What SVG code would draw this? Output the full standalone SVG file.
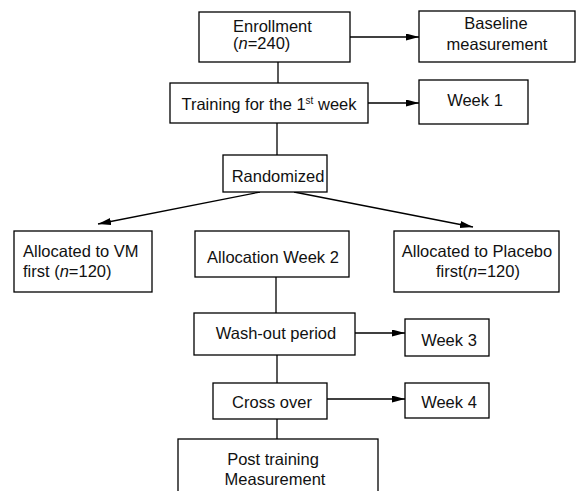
<svg xmlns="http://www.w3.org/2000/svg" width="578" height="491" viewBox="0 0 578 491">
<style>
.box{fill:#fff;stroke:#000;stroke-width:1.3}
.ln{fill:none;stroke:#000;stroke-width:1.3}
.t{font-family:"Liberation Sans",Arial,sans-serif;font-size:16.5px;fill:#111}
.m{text-anchor:middle}
</style>
<defs>
<marker id="ah" markerUnits="userSpaceOnUse" markerWidth="14" markerHeight="8" refX="13" refY="3.5" orient="auto">
<path d="M0,0 L13,3.5 L0,7 z" fill="#000"/>
</marker>
</defs>
<rect width="578" height="491" fill="#fff"/>
<g id="connectors">
<line class="ln" x1="350" y1="37" x2="419" y2="37" marker-end="url(#ah)"/>
<line class="ln" x1="278" y1="62" x2="278" y2="83"/>
<line class="ln" x1="368" y1="103" x2="419" y2="103" marker-end="url(#ah)"/>
<line class="ln" x1="277" y1="123" x2="277" y2="155"/>
<line class="ln" x1="260" y1="192" x2="98" y2="224" marker-end="url(#ah)"/>
<line class="ln" x1="294" y1="192" x2="473" y2="227" marker-end="url(#ah)"/>
<line class="ln" x1="276" y1="277" x2="276" y2="313"/>
<line class="ln" x1="355" y1="333" x2="405" y2="333" marker-end="url(#ah)"/>
<line class="ln" x1="277" y1="355" x2="277" y2="383"/>
<line class="ln" x1="327" y1="399" x2="405" y2="399" marker-end="url(#ah)"/>
<line class="ln" x1="277" y1="419" x2="277" y2="439"/>
</g>
<g id="enrollment">
<rect class="box" x="199" y="12" width="151" height="50"/>
<text class="t" x="233" y="32">Enrollment</text>
<text class="t" x="233" y="49">(<tspan font-style="italic">n</tspan>=240)</text>
</g>
<g id="baseline">
<rect class="box" x="419" y="11" width="156" height="51"/>
<text class="t m" x="496" y="29">Baseline</text>
<text class="t m" x="497" y="50">measurement</text>
</g>
<g id="training">
<rect class="box" x="170" y="83" width="198" height="40"/>
<text class="t m" x="269" y="110">Training for the 1<tspan font-size="10" dy="-6">st</tspan><tspan dy="6"> week</tspan></text>
</g>
<g id="week1">
<rect class="box" x="419" y="80" width="109" height="44"/>
<text class="t m" x="475" y="106">Week 1</text>
</g>
<g id="randomized">
<rect class="box" x="223" y="155" width="104" height="37"/>
<text class="t m" x="278" y="182">Randomized</text>
</g>
<g id="vm">
<rect class="box" x="14" y="231" width="138" height="61"/>
<text class="t" x="23" y="257">Allocated to VM</text>
<text class="t" x="23" y="277">first (<tspan font-style="italic">n</tspan>=120)</text>
</g>
<g id="allocation">
<rect class="box" x="195" y="231" width="154" height="46"/>
<text class="t m" x="273" y="263">Allocation Week 2</text>
</g>
<g id="placebo">
<rect class="box" x="394" y="231" width="165" height="61"/>
<text class="t m" x="477" y="257">Allocated to Placebo</text>
<text class="t m" x="478" y="277">first(<tspan font-style="italic">n</tspan>=120)</text>
</g>
<g id="washout">
<rect class="box" x="194" y="313" width="161" height="42"/>
<text class="t m" x="276" y="339">Wash-out period</text>
</g>
<g id="week3">
<rect class="box" x="405" y="319" width="84" height="37"/>
<text class="t m" x="449" y="346">Week 3</text>
</g>
<g id="crossover">
<rect class="box" x="213" y="383" width="114" height="36"/>
<text class="t m" x="272" y="408">Cross over</text>
</g>
<g id="week4">
<rect class="box" x="405" y="383" width="84" height="35"/>
<text class="t m" x="449" y="408">Week 4</text>
</g>
<g id="post">
<rect class="box" x="178" y="439" width="200" height="60"/>
<text class="t m" x="273" y="465">Post training</text>
<text class="t m" x="275" y="485">Measurement</text>
</g>
</svg>
